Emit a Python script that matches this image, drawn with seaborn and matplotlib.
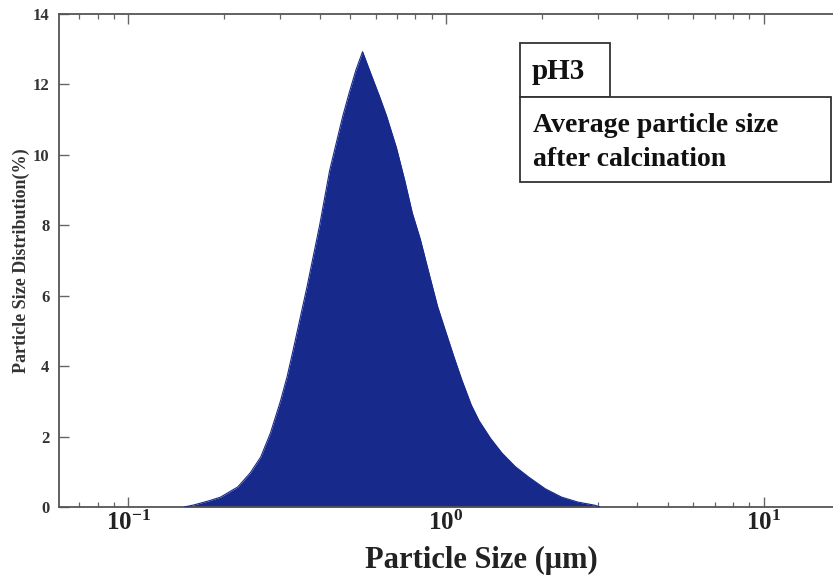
import numpy as np
import pandas as pd
import matplotlib
matplotlib.use("Agg")
import matplotlib.pyplot as plt
import matplotlib.ticker as mticker
from matplotlib.patches import Rectangle
import seaborn as sns

# Particle size (um) and distribution (%)
size_um = [0.150, 0.161, 0.180, 0.195, 0.221, 0.242, 0.261, 0.280, 0.301, 0.316,
           0.330, 0.365, 0.400, 0.430, 0.453, 0.473, 0.497, 0.520, 0.546, 0.580,
           0.618, 0.650, 0.698, 0.740, 0.783, 0.830, 0.880, 0.940, 1.00, 1.06,
           1.122, 1.20, 1.27, 1.38, 1.50, 1.65, 1.82, 2.05, 2.31, 2.60,
           2.94, 3.05]
dist_pct = [0.0, 0.06, 0.18, 0.28, 0.57, 0.97, 1.42, 2.10, 3.00, 3.70,
            4.45, 6.25, 8.00, 9.55, 10.4, 11.1, 11.8, 12.4, 12.93, 12.3,
            11.65, 11.1, 10.2, 9.3, 8.35, 7.6, 6.7, 5.7, 4.95, 4.25,
            3.6, 2.9, 2.45, 1.95, 1.53, 1.15, 0.85, 0.52, 0.28, 0.14,
            0.05, 0.0]

x_ticks = [0.1, 1, 10]
x_tick_labels = [r"$\mathbf{10^{-1}}$", r"$\mathbf{10^{0}}$", r"$\mathbf{10^{1}}$"]
y_ticks = [0, 2, 4, 6, 8, 10, 12, 14]

sample_label = "pH3"
note_lines = ["Average particle size", "after calcination"]

sns.set_theme(style="white")
plt.rcParams["font.family"] = ["Liberation Serif", "DejaVu Serif"]
plt.rcParams["mathtext.fontset"] = "custom"
plt.rcParams["mathtext.rm"] = "Liberation Serif"
plt.rcParams["mathtext.bf"] = "Liberation Serif:bold"

df = pd.DataFrame({"size": size_um, "dist": dist_pct})

W, H = 833, 579
fig = plt.figure(figsize=(W / 100, H / 100), dpi=100)
left_px, right_px, top_px, bottom_px = 59, 841, 14, 507
ax = fig.add_axes([left_px / W, (H - bottom_px) / H,
                   (right_px - left_px) / W, (bottom_px - top_px) / H])

fill_color = "#18298c"
ax.fill_between(df["size"], df["dist"], 0, color=fill_color, linewidth=0, zorder=2)
sns.lineplot(data=df, x="size", y="dist", ax=ax, color=fill_color, linewidth=0.8,
             estimator=None, sort=False, zorder=3)

ax.set_xscale("log")
ax.set_xlim(0.0605, 17.5)
ax.set_ylim(0, 14)

ax.set_xticks(x_ticks)
ax.set_xticklabels(x_tick_labels, fontsize=18)
ax.xaxis.set_minor_locator(mticker.LogLocator(base=10, subs=np.arange(2, 10)))
ax.xaxis.set_minor_formatter(mticker.NullFormatter())
ax.set_yticks(y_ticks)
ax.set_yticklabels([str(v) for v in y_ticks], fontsize=12, fontweight="bold",
                   color="#333333")

ax.tick_params(axis="x", which="major", direction="in", length=7, width=1.0,
               color="#666666", top=True, bottom=True, pad=3, labelcolor="#222222")
ax.tick_params(axis="y", which="major", direction="in", length=7, width=1.0,
               color="#666666", left=True, right=False, pad=7)
ax.tick_params(axis="x", which="minor", direction="in", length=3.5, width=0.9,
               color="#666666", top=True, bottom=True)

for side in ["left", "bottom", "top"]:
    ax.spines[side].set_color("#555555")
    ax.spines[side].set_linewidth(1.3)
ax.spines["right"].set_visible(False)

ax.set_xlabel("Particle Size (μm)", fontsize=22, fontweight="bold", color="#222222")
ax.xaxis.set_label_coords((481 - left_px) / (right_px - left_px), -(560 - bottom_px) / (bottom_px - top_px))
ax.xaxis.label.set_va("center")
ax.set_ylabel("Particle Size Distribution(%)", fontsize=13, fontweight="bold",
              color="#333333")
ax.yaxis.set_label_coords(-(left_px - 21) / (right_px - left_px), 0.5)
ax.yaxis.label.set_va("center")

# annotation boxes
def fx(px):
    return px / W

def fy(py):
    return 1 - py / H

fig.patches.append(Rectangle((fx(520), fy(97)), fx(610) - fx(520), fy(43) - fy(97),
                             transform=fig.transFigure, fill=True, facecolor="white",
                             edgecolor="#333333", linewidth=1.3, zorder=5))
fig.patches.append(Rectangle((fx(520), fy(182)), fx(831) - fx(520), fy(97) - fy(182),
                             transform=fig.transFigure, fill=True, facecolor="white",
                             edgecolor="#333333", linewidth=1.3, zorder=5))
fig.text(fx(532), fy(79), sample_label, fontsize=21, fontweight="bold",
         va="baseline", ha="left", color="#111111", zorder=6)
fig.text(fx(533), fy(132), note_lines[0], fontsize=20, fontweight="bold",
         va="baseline", ha="left", color="#111111", zorder=6)
fig.text(fx(533), fy(166), note_lines[1], fontsize=20, fontweight="bold",
         va="baseline", ha="left", color="#111111", zorder=6)

fig.savefig("out.png", dpi=100)
